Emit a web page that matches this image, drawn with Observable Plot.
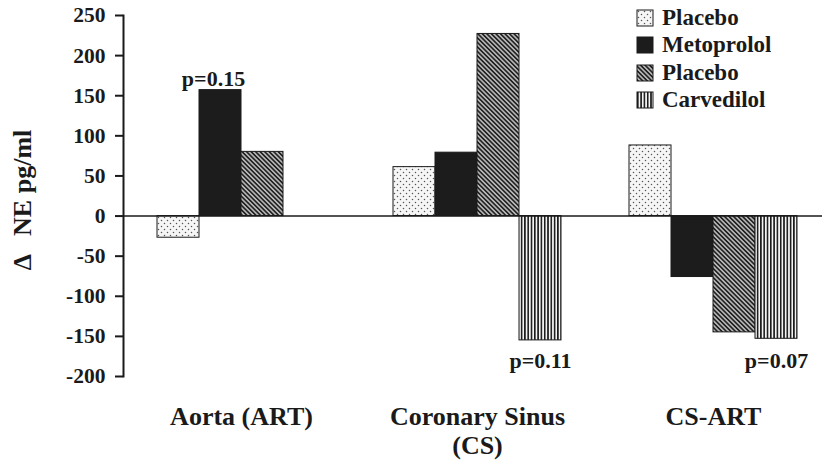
<!DOCTYPE html>
<html>
<head>
<meta charset="utf-8">
<script src="https://cdn.jsdelivr.net/npm/d3@7"></script>
<script src="https://cdn.jsdelivr.net/npm/@observablehq/plot@0.6"></script>
<style>
  html, body { margin: 0; padding: 0; background: #fff; }
  #wrap { position: relative; width: 822px; height: 462px; overflow: hidden; }
  #legend { position: absolute; left: 637px; top: 4px; }
  #legend .lg-swatch { display: flex; align-items: center; height: 27.5px; margin: 0; padding: 0; }
  #legend .lg-swatch > svg { margin-right: 9px !important; overflow: visible; }
  #legend .lg-swatch rect { stroke: #1a1a1a; stroke-width: 1; }
  #legend, #legend * { font-family: "Liberation Serif", serif; font-weight: bold; font-size: 23px; color: #1a1a1a; }
</style>
</head>
<body>
<svg width="0" height="0" style="position:absolute">
  <defs>
    <pattern id="dots" width="6" height="6" patternUnits="userSpaceOnUse">
      <rect width="6" height="6" fill="#f6f6f6"/>
      <circle cx="1.5" cy="1.5" r="0.75" fill="#555"/>
      <circle cx="4.5" cy="4.5" r="0.75" fill="#555"/>
    </pattern>
    <pattern id="diag" width="3.2" height="3.2" patternUnits="userSpaceOnUse" patternTransform="rotate(45)">
      <rect width="3.2" height="3.2" fill="#b5b5b5"/>
      <rect width="3.2" height="1.6" fill="#222"/>
    </pattern>
    <pattern id="vert" width="3.3" height="4" patternUnits="userSpaceOnUse">
      <rect width="3.3" height="4" fill="#f4f4f4"/>
      <rect width="1.6" height="4" fill="#1a1a1a"/>
    </pattern>
  </defs>
</svg>
<div id="wrap"><div id="chart"></div><div id="legend"></div></div>
<script>
// ---- data ----
const groups = ["Aorta (ART)", "Coronary Sinus\n(CS)", "CS-ART"];
const series = ["Placebo (Metoprolol)", "Metoprolol", "Placebo (Carvedilol)", "Carvedilol"];
const seriesLabels = ["Placebo", "Metoprolol", "Placebo", "Carvedilol"];
const aortaValues = [-27, 157, 80, null];
const coronarySinusValues = [61, 79, 227, -155];
const csArtValues = [88, -76, -145, -153];
const yTicks = [-200, -150, -100, -50, 0, 50, 100, 150, 200, 250];
const yTitle = "\u0394   NE pg/ml";
const pGroups = ["Aorta (ART)", "Coronary Sinus\n(CS)", "CS-ART"];
const pSeries = ["Metoprolol", "Carvedilol", "Carvedilol"];
const pTexts = ["p=0.15", "p=0.11", "p=0.07"];
const pValuesY = [157, -181, -181];

// ---- styles ----
const fills = ["url(#dots)", "#1c1c1c", "url(#diag)", "url(#vert)"];

const valueRows = [aortaValues, coronarySinusValues, csArtValues];
const data = groups.flatMap((g, gi) =>
  series.map((s, si) => ({group: g, series: s, value: valueRows[gi][si]}))
).filter(d => d.value != null);
const pData = pTexts.map((t, i) => ({group: pGroups[i], series: pSeries[i], y: pValuesY[i], text: t}));

const font = "'Liberation Serif', 'Times New Roman', serif";
const ink = "#1a1a1a";

const chart = Plot.plot({
  width: 822,
  height: 462,
  marginLeft: 122,
  marginRight: -9.5,
  marginTop: 15,
  marginBottom: 86,
  style: {fontFamily: font, fontWeight: "bold", color: ink, background: "#fff", overflow: "visible"},
  fx: {domain: groups, paddingInner: 0, paddingOuter: 0, label: null},
  x: {domain: series, paddingInner: 0, paddingOuter: 0.75, axis: null},
  y: {domain: [-200, 250]},
  color: {type: "ordinal", domain: series, range: fills},
  marks: [
    Plot.barY(data, {fx: "group", x: "series", y: "value", fill: "series", stroke: ink, strokeWidth: 1}),
    Plot.ruleY([0], {stroke: ink, strokeWidth: 1.6}),
    Plot.frame({facet: "super", anchor: "left", stroke: ink, strokeWidth: 2}),
    Plot.axisY({ticks: yTicks, tickSize: 8, tickPadding: 10, tickFormat: d => String(d), fontSize: 21.5, strokeWidth: 2, stroke: ink, label: null}),
    Plot.text([yTitle], {facet: "super", frameAnchor: "left", textAnchor: "middle", text: d => d, rotate: -90, dx: -101, dy: 4, fontSize: 26, fontWeight: "bold", fill: ink}),
    Plot.axisFx({anchor: "bottom", tickSize: 0, tickPadding: 28, fontSize: 26, lineHeight: 1.12, label: null, lineAnchor: "top"}),
    Plot.text(pData.slice(0, 1), {fx: "group", x: "series", y: "y", text: "text", fontSize: 22, fontWeight: "bold", lineAnchor: "bottom", dx: -7, dy: -4, fill: ink}),
    Plot.text(pData.slice(1), {fx: "group", x: "series", y: "y", text: "text", fontSize: 22, fontWeight: "bold", lineAnchor: "middle", fill: ink})
  ]
});
document.getElementById("chart").appendChild(chart);

const legend = Plot.legend({
  color: {type: "ordinal", domain: series, range: fills},
  tickFormat: d => seriesLabels[series.indexOf(d)],
  columns: 1,
  swatchSize: 16,
  className: "lg"
});
document.getElementById("legend").appendChild(legend);
</script>
</body>
</html>
